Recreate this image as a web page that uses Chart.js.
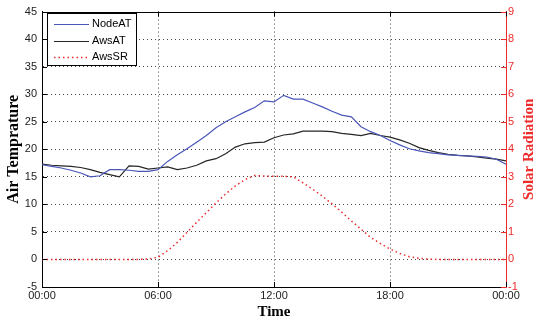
<!DOCTYPE html>
<html>
<head>
<meta charset="utf-8">
<script src="https://cdn.jsdelivr.net/npm/chart.js@4.4.0/dist/chart.umd.min.js"></script>
<style>
  html, body { margin: 0; padding: 0; background: #fff; }
  #wrap { width: 535px; height: 325px; }
</style>
</head>
<body>
<div id="wrap"><canvas id="chart" width="535" height="325"></canvas></div>
<script>
// time of day in hours, half-hourly samples
var hours = [0, 0.5, 1, 1.5, 2, 2.5, 3, 3.5, 4, 4.5, 5, 5.5, 6, 6.5, 7, 7.5, 8, 8.5,
    9, 9.5, 10, 10.5, 11, 11.5, 12, 12.5, 13, 13.5, 14, 14.5, 15, 15.5, 16, 16.5,
    17, 17.5, 18, 18.5, 19, 19.5, 20, 20.5, 21, 21.5, 22, 22.5, 23, 23.5, 24];

// air temperature from the sensor node (degC)
var nodeAT = [17.2, 16.9, 16.6, 16.2, 15.7, 15.0, 15.2, 16.3, 16.3, 16.2, 16.0, 16.0,
    16.3, 17.8, 19.0, 20.1, 21.3, 22.5, 23.9, 25.0, 25.9, 26.8, 27.6, 28.8, 28.6, 29.8,
    29.1, 29.1, 28.4, 27.7, 26.9, 26.2, 25.9, 24.1, 23.2, 22.5, 21.6, 20.8, 20.1, 19.7,
    19.4, 19.2, 19.0, 18.9, 18.8, 18.7, 18.6, 18.2, 17.3];

// air temperature from the weather station (degC)
var awsAT = [17.3, 17.1, 17.0, 16.9, 16.7, 16.3, 15.8, 15.4, 15.0, 17.0, 16.9, 16.4,
    16.6, 16.8, 16.3, 16.6, 17.1, 17.9, 18.3, 19.2, 20.4, 21.0, 21.2, 21.3, 22.1, 22.6,
    22.8, 23.3, 23.3, 23.3, 23.2, 22.9, 22.7, 22.5, 22.9, 22.5, 22.2, 21.7, 21.1, 20.3,
    19.8, 19.4, 19.1, 18.9, 18.8, 18.6, 18.4, 18.2, 17.9];

// solar radiation from the weather station
var awsSR = [0, 0, 0, 0, 0, 0, 0, 0, 0, 0, 0, 0.02,
    0.08, 0.32, 0.62, 0.98, 1.35, 1.7, 2.05, 2.38, 2.67, 2.9, 3.05, 3.03, 3.02, 3.02,
    3.0, 2.78, 2.55, 2.3, 2.02, 1.72, 1.4, 1.1, 0.8, 0.58, 0.38, 0.22, 0.1, 0.04,
    0.01, 0, 0, 0, 0, 0, 0, 0, 0];

var seriesNames = ['NodeAT', 'AwsAT', 'AwsSR'];

var RED = '#ee2b2b';

function points(values) {
    return hours.map(function (h, i) { return { x: h, y: values[i] }; });
}

function hhmm(v) {
    var h = v % 24;
    return (h < 10 ? '0' : '') + h + ':00';
}

// axes box extras: top edge, inward tick marks, legend and right-hand title
var frame = {
    id: 'frame',
    afterDraw: function (chart) {
        var ctx = chart.ctx;
        var a = chart.chartArea;
        var sx = chart.scales.x, sy = chart.scales.y, sy1 = chart.scales.y1;
        var tl = 5;
        ctx.save();
        ctx.lineWidth = 1;

        ctx.strokeStyle = '#000';
        ctx.beginPath();
        ctx.moveTo(a.left, Math.round(a.top) + 0.5);
        ctx.lineTo(a.right, Math.round(a.top) + 0.5);
        ctx.stroke();

        ctx.beginPath();
        sx.ticks.forEach(function (t) {
            var px = Math.round(sx.getPixelForValue(t.value)) + 0.5;
            ctx.moveTo(px, a.bottom); ctx.lineTo(px, a.bottom - tl);
            ctx.moveTo(px, a.top); ctx.lineTo(px, a.top + tl);
        });
        sy.ticks.forEach(function (t) {
            var py = Math.round(sy.getPixelForValue(t.value)) + 0.5;
            ctx.moveTo(a.left, py); ctx.lineTo(a.left + tl, py);
        });
        ctx.stroke();

        ctx.strokeStyle = RED;
        ctx.beginPath();
        sy1.ticks.forEach(function (t) {
            var py = Math.round(sy1.getPixelForValue(t.value)) + 0.5;
            ctx.moveTo(a.right, py); ctx.lineTo(a.right - tl, py);
        });
        ctx.stroke();

        // legend
        var lx = 47.5, ly = 13.5, lw = 89, lh = 52;
        ctx.fillStyle = '#fff';
        ctx.fillRect(lx, ly, lw, lh);
        ctx.strokeStyle = '#000';
        ctx.setLineDash([]);
        ctx.strokeRect(lx, ly, lw, lh);
        ctx.font = '11px "Liberation Sans", Arial, sans-serif';
        ctx.textBaseline = 'middle';
        ctx.textAlign = 'left';
        chart.data.datasets.forEach(function (ds, i) {
            var yy = 24 + i * 16.5;
            ctx.strokeStyle = ds.borderColor;
            ctx.lineWidth = ds.borderWidth;
            ctx.setLineDash(ds.borderDash || []);
            ctx.beginPath();
            ctx.moveTo(54, Math.round(yy) + 0.5);
            ctx.lineTo(89, Math.round(yy) + 0.5);
            ctx.stroke();
            ctx.fillStyle = '#000';
            ctx.fillText(ds.label, 92, yy);
        });
        ctx.setLineDash([]);

        // right axis title, reading bottom to top
        ctx.translate(529, (a.top + a.bottom) / 2);
        ctx.rotate(-Math.PI / 2);
        ctx.textAlign = 'center';
        ctx.fillStyle = RED;
        ctx.font = 'bold 15px "Liberation Serif", "Times New Roman", serif';
        ctx.fillText('Solar Radiation', 0, 0);
        ctx.restore();
    }
};

var tickFont = { family: '"Liberation Sans", Arial, sans-serif', size: 11 };
var titleFont = { family: '"Liberation Serif", "Times New Roman", serif', size: 15, weight: 'bold' };

new Chart(document.getElementById('chart').getContext('2d'), {
    type: 'line',
    data: {
        datasets: [{
            label: seriesNames[0],
            data: points(nodeAT),
            borderColor: '#4a56b8',
            borderWidth: 1.2,
            yAxisID: 'y'
        }, {
            label: seriesNames[1],
            data: points(awsAT),
            borderColor: '#262626',
            borderWidth: 1.2,
            yAxisID: 'y'
        }, {
            label: seriesNames[2],
            data: points(awsSR),
            borderColor: RED,
            borderWidth: 1.5,
            borderDash: [1.5, 3],
            yAxisID: 'y1'
        }]
    },
    options: {
        responsive: false,
        animation: false,
        layout: { padding: { top: 8, left: 0, right: 0, bottom: 0 } },
        elements: {
            point: { radius: 0 },
            line: { tension: 0 }
        },
        plugins: {
            legend: { display: false },
            tooltip: { enabled: false }
        },
        scales: {
            x: {
                type: 'linear',
                position: 'bottom',
                min: 0,
                max: 24,
                ticks: {
                    stepSize: 6,
                    padding: 2,
                    maxRotation: 0,
                    autoSkip: false,
                    color: '#222',
                    font: tickFont,
                    callback: hhmm
                },
                grid: {
                    drawTicks: false,
                    color: function (c) {
                        var v = c.tick ? c.tick.value : 0;
                        return (v === 0 || v === 24) ? 'rgba(0,0,0,0)' : '#444';
                    }
                },
                border: { color: '#000', width: 1, dash: [1, 3] },
                title: {
                    display: true,
                    text: 'Time',
                    color: '#000',
                    font: titleFont,
                    padding: { top: 0, bottom: 4 }
                },
                afterFit: function (s) { s.height = 38; }
            },
            y: {
                position: 'left',
                min: -5,
                max: 45,
                ticks: { stepSize: 5, padding: 5, color: '#222', font: tickFont },
                grid: {
                    drawTicks: false,
                    color: function (c) {
                        var v = c.tick ? c.tick.value : 0;
                        return (v === -5 || v === 45) ? 'rgba(0,0,0,0)' : '#444';
                    }
                },
                border: { color: '#000', width: 1, dash: [1, 3] },
                title: {
                    display: true,
                    text: 'Air Temprature',
                    color: '#000',
                    font: { family: titleFont.family, size: 16, weight: 'bold' },
                    padding: { top: 4, bottom: 0 }
                },
                afterFit: function (s) { s.width = 42; }
            },
            y1: {
                position: 'right',
                min: -1,
                max: 9,
                ticks: { stepSize: 1, padding: 2, color: RED, font: tickFont },
                grid: { display: false, drawTicks: false },
                border: { color: RED, width: 1 },
                afterFit: function (s) { s.width = 29; }
            }
        }
    },
    plugins: [frame]
});
</script>
</body>
</html>
